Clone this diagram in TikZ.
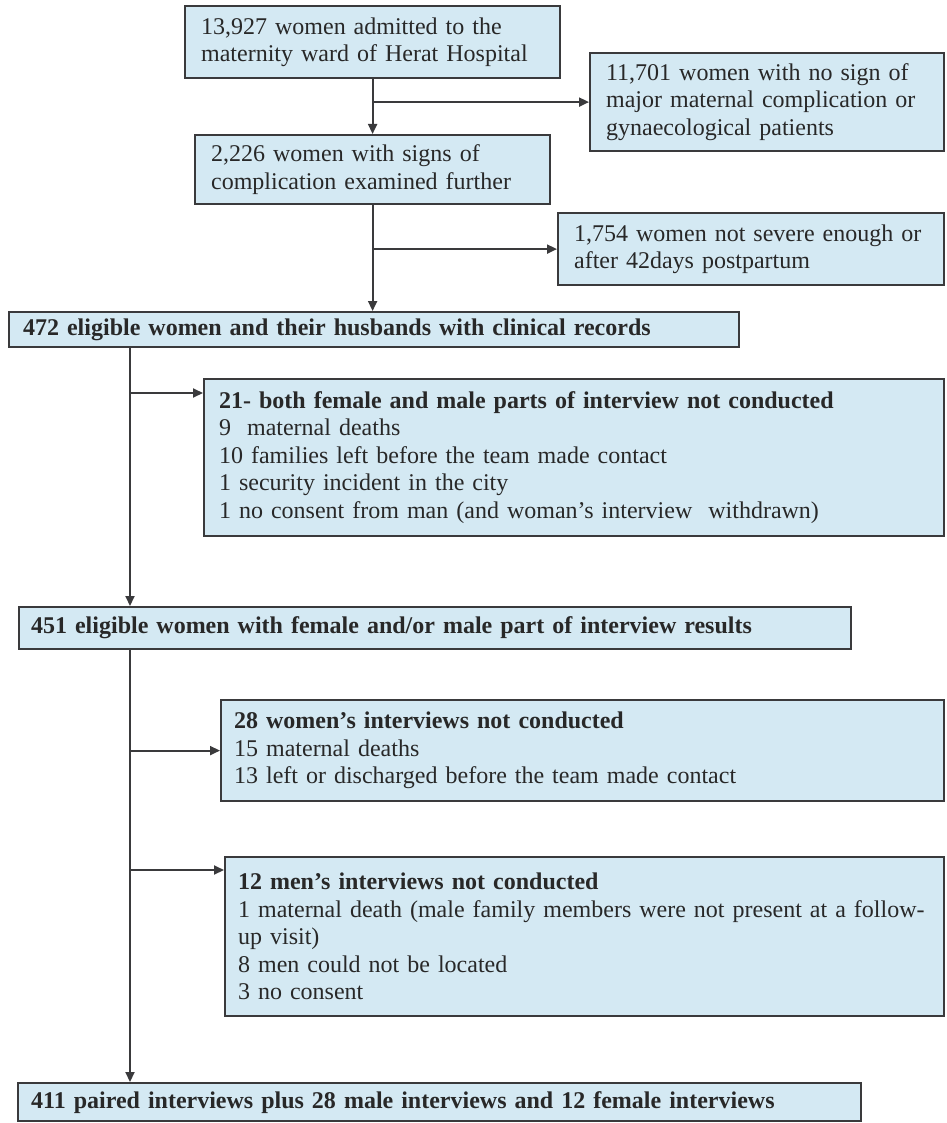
\documentclass[tikz,border=0pt]{standalone}
\usepackage{fontspec}
\setmainfont{Liberation Serif}
\usetikzlibrary{arrows.meta,calc}
\definecolor{boxfill}{RGB}{212,233,243}
\definecolor{boxline}{RGB}{58,58,60}
\definecolor{inkcol}{RGB}{40,40,40}
\tikzset{
  flowbox/.style={draw=boxline, line width=2.2pt, fill=boxfill, text=inkcol,
    anchor=north west, align=left, inner ysep=0pt,
    font=\fontsize{24}{27.5}\selectfont},
  link/.style={draw=boxline, line width=2pt},
  linkarrow/.style={link, -{Triangle[length=10pt,width=9pt]}}
}
% place a box by its corners in pixel units
\newcommand{\flowbox}[7]{%
  \node[flowbox, inner xsep=#6pt, text width={#4-#2-2*#6 pt}, minimum height={#5-#3 pt}]
    (#1) at (#2,#3) {#7};}
\begin{document}
\begin{tikzpicture}[x=1pt,y=-1pt]
\useasboundingbox (0,0) rectangle (946,1123);

\flowbox{admit}{184}{5}{559}{77}{16}{13,927 women admitted to the\\maternity ward of Herat Hospital}
\flowbox{nosign}{589}{52}{943}{150}{16}{11,701 women with no sign of\\major maternal complication or\\gynaecological patients}
\flowbox{compl}{194}{134}{549}{203}{16}{2,226 women with signs of\\complication examined further}
\flowbox{notsev}{557}{212}{943}{284}{16}{1,754 women not severe enough or\\after 42days postpartum}
\flowbox{elig}{8}{311}{738}{346}{14}{\textbf{472 eligible women and their husbands with clinical records}}
\flowbox{both}{203}{378}{943}{535}{15}{\textbf{21- both female and male parts of interview not conducted}\\9\ \ maternal deaths\\10 families left before the team made contact\\1 security incident in the city\\1 no consent from man (and woman’s interview\ \ withdrawn)}
\flowbox{results}{18}{606}{850}{648}{12}{\textbf{451 eligible women with female and/or male part of interview results}}
\flowbox{women}{220}{699}{943}{800}{13}{\textbf{28 women’s interviews not conducted}\\15 maternal deaths\\13 left or discharged before the team made contact}
\flowbox{men}{224}{856}{943}{1015}{13}{\textbf{12 men’s interviews not conducted}\\1 maternal death (male family members were not present at a follow-\\up visit)\\8 men could not be located\\3 no consent}
\flowbox{paired}{17}{1082}{860}{1120}{13}{\textbf{411 paired interviews plus 28 male interviews and 12 female interviews}}

% upper chain
\draw[linkarrow] (admit.south) -- (compl.north);
\draw[linkarrow] (admit.south |- nosign.west) -- (nosign.west);
\draw[linkarrow] (compl.south) -- (compl.south |- elig.north);
\draw[linkarrow] (compl.south |- notsev.west) -- (notsev.west);

% left trunk
\coordinate (trunk) at (130,0);
\coordinate (bothin) at ([yshift=-15pt]both.north west);
\coordinate (menin) at ([yshift=-14pt]men.north west);
\draw[linkarrow] (trunk |- elig.south) -- (trunk |- results.north);
\draw[linkarrow] (trunk |- bothin) -- (bothin);
\draw[linkarrow] (trunk |- results.south) -- (trunk |- paired.north);
\draw[linkarrow] (trunk |- women.west) -- (women.west);
\draw[linkarrow] (trunk |- menin) -- (menin);
\end{tikzpicture}
\end{document}
